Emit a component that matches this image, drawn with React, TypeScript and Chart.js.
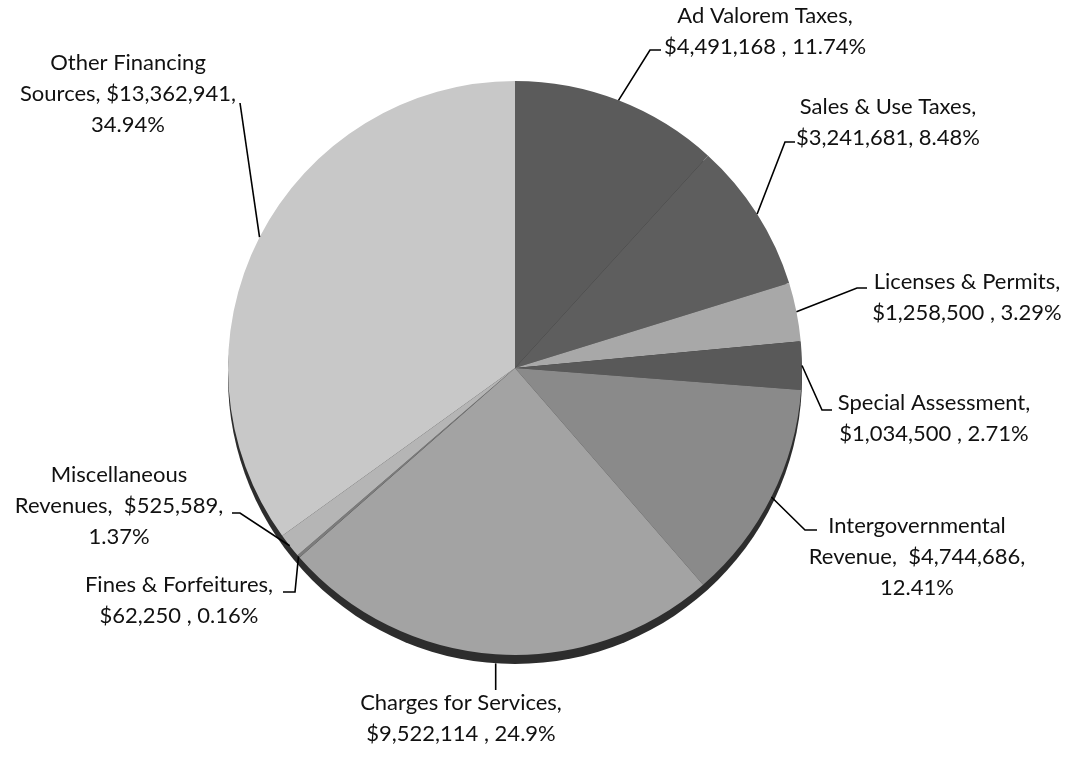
import React, { useEffect, useRef } from "react";
import { Chart, registerables } from "chart.js";

Chart.register(...registerables);

const categories = [
  "Ad Valorem Taxes",
  "Sales & Use Taxes",
  "Licenses & Permits",
  "Special Assessment",
  "Intergovernmental Revenue",
  "Charges for Services",
  "Fines & Forfeitures",
  "Miscellaneous Revenues",
  "Other Financing Sources",
];

const values = [4491168, 3241681, 1258500, 1034500, 4744686, 9522114, 62250, 525589, 13362941];

const labelLines = [
  ["Ad Valorem Taxes,", "$4,491,168 , 11.74%"],
  ["Sales & Use Taxes,", "$3,241,681, 8.48%"],
  ["Licenses & Permits,", "$1,258,500 , 3.29%"],
  ["Special Assessment,", "$1,034,500 , 2.71%"],
  ["Intergovernmental", "Revenue,  $4,744,686,", "12.41%"],
  ["Charges for Services,", "$9,522,114 , 24.9%"],
  ["Fines & Forfeitures,", "$62,250 , 0.16%"],
  ["Miscellaneous", "Revenues,  $525,589,", "1.37%"],
  ["Other Financing", "Sources, $13,362,941,", "34.94%"],
];

const sliceColors = ["#5b5b5b", "#5e5e5e", "#a8a8a8", "#595959", "#8a8a8a", "#a3a3a3", "#7c7c7c", "#b5b5b5", "#c8c8c8"];

// label placement (text centre of first line, leader waypoints after the rim point)
const labelLayout = [
  { tx: 765, ty: 16, path: [[650, 50], [661, 50]] },
  { tx: 888, ty: 107, path: [[785, 142], [795, 142]] },
  { tx: 967, ty: 282, path: [[857, 288], [867, 288]] },
  { tx: 934, ty: 403, path: [[822, 410], [832, 410]] },
  { tx: 917, ty: 526, path: [[805, 530], [817, 530]] },
  { tx: 461, ty: 703, path: [[null, 690]] },
  { tx: 179, ty: 585, path: [[295, 592], [283, 592]] },
  { tx: 119, ty: 475, path: [[240, 513], [232, 513]] },
  { tx: 128, ty: 63, path: [[240, 103]] },
];

const RIM = 9;
const FONT = '22px Lato, "Open Sans", sans-serif';
const LINE_H = 31;

const rimPlugin = {
  id: "rim3d",
  beforeDatasetsDraw(chart: any) {
    const arc = chart.getDatasetMeta(0).data[0];
    if (!arc) return;
    const { x, y, outerRadius } = arc.getProps(["x", "y", "outerRadius"], true);
    const ctx = chart.ctx;
    ctx.save();
    ctx.fillStyle = "#2d2d2d";
    ctx.beginPath();
    ctx.arc(x, y + RIM, outerRadius, 0, Math.PI * 2);
    ctx.fill();
    ctx.restore();
  },
};

const labelPlugin = {
  id: "leaderLabels",
  afterDraw(chart: any) {
    const meta = chart.getDatasetMeta(0);
    const ctx = chart.ctx;
    ctx.save();
    ctx.strokeStyle = "#000";
    ctx.lineWidth = 1.6;
    ctx.fillStyle = "#111";
    ctx.font = FONT;
    ctx.textAlign = "center";
    ctx.textBaseline = "middle";
    meta.data.forEach((arc: any, i: number) => {
      const p = arc.getProps(["x", "y", "startAngle", "endAngle", "outerRadius"], true);
      const mid = (p.startAngle + p.endAngle) / 2;
      let sx = p.x + p.outerRadius * Math.cos(mid);
      let sy = p.y + p.outerRadius * Math.sin(mid);
      if (Math.sin(mid) > 0.9) sy += RIM;
      const lay = labelLayout[i];
      ctx.beginPath();
      ctx.moveTo(sx, sy);
      lay.path.forEach((pt: any) => {
        const px = pt[0] === null ? sx : pt[0];
        ctx.lineTo(px, pt[1]);
      });
      ctx.stroke();
      labelLines[i].forEach((line, k) => {
        ctx.fillText(line, lay.tx, lay.ty + k * LINE_H);
      });
    });
    ctx.restore();
  },
};

export default function App() {
  const ref = useRef<HTMLCanvasElement | null>(null);
  useEffect(() => {
    if (!ref.current) return;
    const chart = new Chart(ref.current, {
      type: "pie",
      data: {
        labels: categories,
        datasets: [
          {
            data: values,
            backgroundColor: sliceColors,
            borderWidth: 0,
          },
        ],
      },
      options: {
        responsive: false,
        animation: false,
        layout: { padding: { left: 228, right: 275, top: 81, bottom: 102 } },
        plugins: {
          legend: { display: false },
          tooltip: { enabled: false },
        },
      },
      plugins: [rimPlugin, labelPlugin],
    });
    return () => chart.destroy();
  }, []);
  return (
    <div style={{ position: "absolute", left: 0, top: 0, width: 1077, height: 757, background: "#fff" }}>
      <canvas ref={ref} width={1077} height={757} />
    </div>
  );
}
